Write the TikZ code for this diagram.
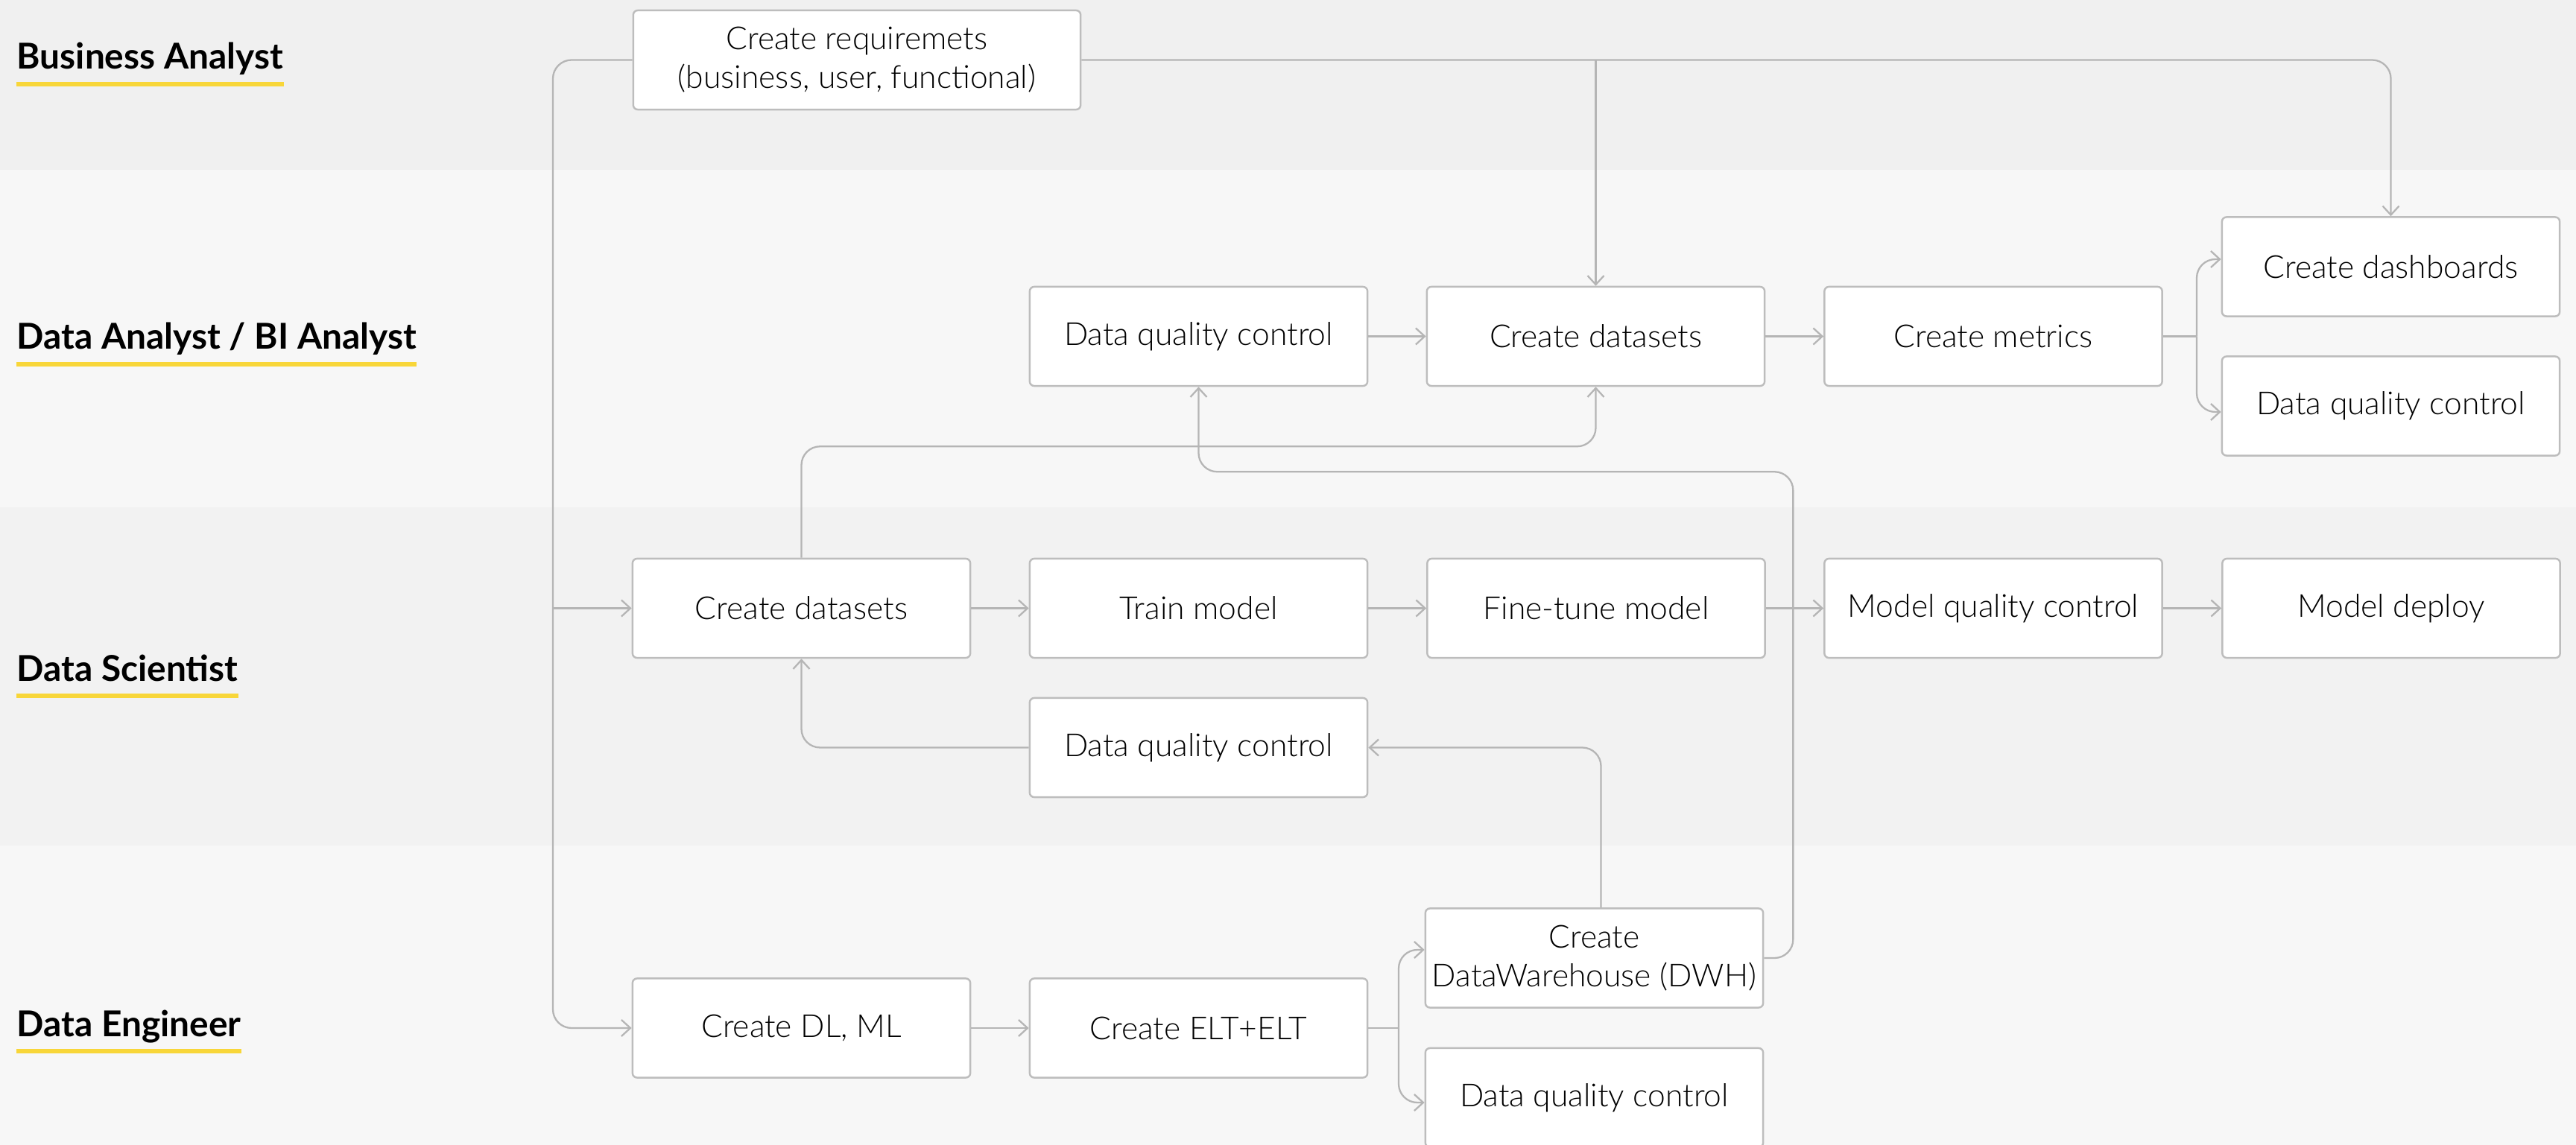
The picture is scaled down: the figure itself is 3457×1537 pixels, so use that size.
\documentclass[tikz,border=0pt]{standalone}
\usepackage{fontspec}
\setmainfont{Lato}[UprightFont=* Light, BoldFont=* Bold]
\usetikzlibrary{arrows.meta,calc}
\definecolor{laneA}{HTML}{F0F0F0}
\definecolor{laneB}{HTML}{F7F7F7}
\definecolor{laneC}{HTML}{F2F2F2}
\definecolor{lineg}{HTML}{B5B5B5}
\definecolor{boxg}{HTML}{BDBDBD}
\definecolor{ylw}{HTML}{F8D639}
\begin{document}
\begin{tikzpicture}[x=0.01cm,y=-0.01cm,
  box/.style={draw=boxg, line width=0.7pt, fill=white, rounded corners=0.06cm,
    minimum width=4.53cm, minimum height=1.33cm, align=center,
    font=\fontsize{12.1}{14.8}\selectfont, inner sep=1pt},
  role/.style={anchor=base west, inner sep=0pt, font=\bfseries\fontsize{13.6}{16}\selectfont},
  conn/.style={draw=lineg, line width=0.65pt, rounded corners=0.25cm},
  arr/.style={conn, -{Straight Barb[length=0.12cm,width=0.22cm]}}]
% lanes
\fill[laneA] (0,0) rectangle (3457,228);
\fill[laneB] (0,228) rectangle (3457,681);
\fill[laneC] (0,681) rectangle (3457,1135);
\fill[laneB] (0,1135) rectangle (3457,1537);
\useasboundingbox (0,0) rectangle (3457,1537);
% role labels
\node[role] (ba) at (22,93) {Business Analyst};
\node[role] (da) at (22,469) {Data Analyst / BI Analyst};
\node[role] (ds) at (22,914) {Data Scientist};
\node[role] (de) at (22,1391) {Data Engineer};
\foreach \r in {ba,da,ds,de}{
  \fill[ylw] ($(\r.base west)+(0,17)$) rectangle ($(\r.base east)+(0,23)$);
}
% spine coordinates
\coordinate (sp) at (742,0);
\coordinate (splitA) at (2948,451.5);
\coordinate (splitE) at (1877,1380);
% nodes
\node[box, minimum width=6cm] (req) at (1150,80.5) {Create requiremets\\(business, user, functional)};
\node[box] (daDQC) at (1608.5,451.5) {Data quality control};
\node[box] (daDS) at (2141.5,451.5) {Create datasets};
\node[box] (daMet) at (2675,451.5) {Create metrics};
\node[box] (daDash) at (3208.5,358) {Create dashboards};
\node[box] (daDQC2) at (3208.5,545) {Data quality control};
\node[box] (dsDS) at (1075.5,816.5) {Create datasets};
\node[box] (dsTrain) at (1608.5,816.5) {Train model};
\node[box] (dsFT) at (2142,816.5) {Fine-tune model};
\node[box] (dsMQC) at (2675,816.5) {Model quality control};
\node[box] (dsDeploy) at (3209,816.5) {Model deploy};
\node[box] (dsDQC) at (1608.5,1003.5) {Data quality control};
\node[box] (deDL) at (1075.5,1380) {Create DL, ML};
\node[box] (deELT) at (1608.5,1380) {Create ELT+ELT};
\node[box] (deDWH) at (2139.5,1286) {Create\\DataWarehouse (DWH)};
\node[box] (deDQC) at (2139.5,1473.5) {Data quality control};
% connectors
\draw[arr] (req.west) -- (req.west -| sp) |- (deDL.west);
\draw[arr] (dsDS.west -| sp) -- (dsDS.west);
\draw[arr] (req.east) -| (daDash.north);
\draw[arr] (req.east -| daDS.north) -- (daDS.north);
\draw[arr] (daDQC.east) -- (daDS.west);
\draw[arr] (daDS.east) -- (daMet.west);
\draw[conn] (daMet.east) -- (splitA);
\draw[arr] (splitA) |- ([yshift=0.1cm]daDash.west);
\draw[arr] (splitA) |- ([yshift=-0.08cm]daDQC2.west);
\draw[arr] (dsDS.east) -- (dsTrain.west);
\draw[arr] (dsTrain.east) -- (dsFT.west);
\draw[arr] (dsFT.east) -- (dsMQC.west);
\draw[arr] (dsMQC.east) -- (dsDeploy.west);
\draw[arr] (dsDS.north) |- ($(daDS.south)+(0,80)$) -- (daDS.south);
\draw[arr] (dsDQC.west) -| (dsDS.south);
\draw[arr] ([xshift=0.09cm]deDWH.north) |- (dsDQC.east);
\draw[arr] (deDWH.east) -- ++(39,0) |- ($(daDQC.south)+(0,114)$) -- (daDQC.south);
\draw[arr] (deDL.east) -- (deELT.west);
\draw[conn] (deELT.east) -- (splitE);
\draw[arr] (splitE) |- ([yshift=0.11cm]deDWH.west);
\draw[arr] (splitE) |- ([yshift=-0.065cm]deDQC.west);
\end{tikzpicture}
\end{document}
